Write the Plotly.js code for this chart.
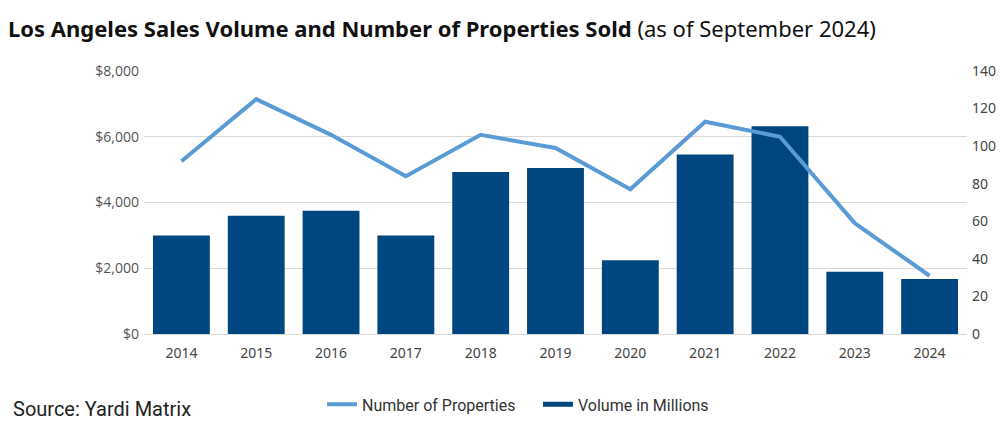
<!DOCTYPE html>
<html>
<head>
<meta charset="utf-8">
<script src="https://cdn.plot.ly/plotly-3.0.1.min.js"></script>
<style>
  html, body { margin: 0; padding: 0; background: #fff; }
  #chart { width: 1007px; height: 433px; }
</style>
</head>
<body>
<div id="chart"></div>
<script>
// Los Angeles sales: yearly volume ($M) and number of properties sold
const years = ['2014', '2015', '2016', '2017', '2018', '2019', '2020', '2021', '2022', '2023', '2024'];
const volumeMillions = [3000, 3600, 3750, 3000, 4930, 5050, 2240, 5460, 6320, 1890, 1670];
const propertiesSold = [92, 125, 106, 84, 106, 99, 77, 113, 105, 59, 31];
const leftTicks = [0, 2000, 4000, 6000, 8000];
const leftTickText = ['$0', '$2,000', '$4,000', '$6,000', '$8,000'];
const rightTicks = [0, 20, 40, 60, 80, 100, 120, 140];

const barColor = '#004680';
const lineColor = '#5B9BD5';
const tickFont = { family: 'Noto Sans, sans-serif', size: 14, color: '#444' };

const traces = [
  {
    type: 'bar',
    name: 'Volume in Millions',
    x: years,
    y: volumeMillions,
    marker: { color: barColor },
    showlegend: false,
    hoverinfo: 'x+y'
  },
  {
    type: 'scatter',
    mode: 'lines',
    name: 'Number of Properties',
    x: years,
    y: propertiesSold,
    yaxis: 'y2',
    line: { color: lineColor, width: 4 },
    legendrank: 1
  },
  // legend entry for the bars, shown as a thick dark stroke
  {
    type: 'scatter',
    mode: 'lines',
    name: 'Volume in Millions',
    x: [null],
    y: [null],
    line: { color: barColor, width: 5 },
    legendrank: 2
  }
];

const margin = { l: 144, r: 40, t: 71, b: 97 };
const plotW = 1007 - margin.l - margin.r;
const plotH = 433 - margin.t - margin.b;

const layout = {
  width: 1007,
  height: 433,
  margin: margin,
  paper_bgcolor: '#fff',
  plot_bgcolor: '#fff',
  bargap: 0.24,
  showlegend: true,
  legend: {
    orientation: 'h',
    x: (322 - margin.l) / plotW, xanchor: 'left',
    y: 1 - (407 - margin.t) / plotH, yanchor: 'middle',
    font: { family: 'Roboto, sans-serif', size: 16, color: '#333' },
    itemwidth: 30,
    entrywidth: 171,
    entrywidthmode: 'pixels',
    tracegroupgap: 0
  },
  xaxis: {
    type: 'category',
    tickfont: tickFont,
    showgrid: false,
    showline: true,
    linecolor: '#d9d9d9',
    linewidth: 1,
    ticks: '',
    ticklabelstandoff: 6
  },
  yaxis: {
    range: [0, 8000],
    tickvals: leftTicks,
    ticktext: leftTickText,
    tickfont: { family: 'Open Sans, sans-serif', size: 14, color: '#555' },
    showgrid: true,
    gridcolor: '#d9d9d9',
    gridwidth: 1,
    zeroline: false,
    ticklabelstandoff: 4
  },
  yaxis2: {
    overlaying: 'y',
    side: 'right',
    range: [0, 140],
    tickvals: rightTicks,
    tickfont: tickFont,
    showgrid: false,
    zeroline: false,
    ticklabelstandoff: 4
  },
  annotations: [
    {
      text: '<b>Los Angeles Sales Volume and Number of Properties Sold</b> (as of September 2024)',
      xref: 'paper', yref: 'paper',
      x: 0, y: 1, xanchor: 'left', yanchor: 'bottom',
      xshift: -138, yshift: 26,
      showarrow: false,
      font: { family: 'Noto Sans, sans-serif', size: 22, color: '#111' }
    },
    {
      text: 'Source: Yardi Matrix',
      xref: 'paper', yref: 'paper',
      x: 0, y: 0, xanchor: 'left', yanchor: 'middle',
      xshift: -133, yshift: -75,
      showarrow: false,
      font: { family: 'Roboto, sans-serif', size: 20, color: '#222' }
    }
  ]
};

Plotly.newPlot('chart', traces, layout, { displayModeBar: false, staticPlot: true });
</script>
</body>
</html>
